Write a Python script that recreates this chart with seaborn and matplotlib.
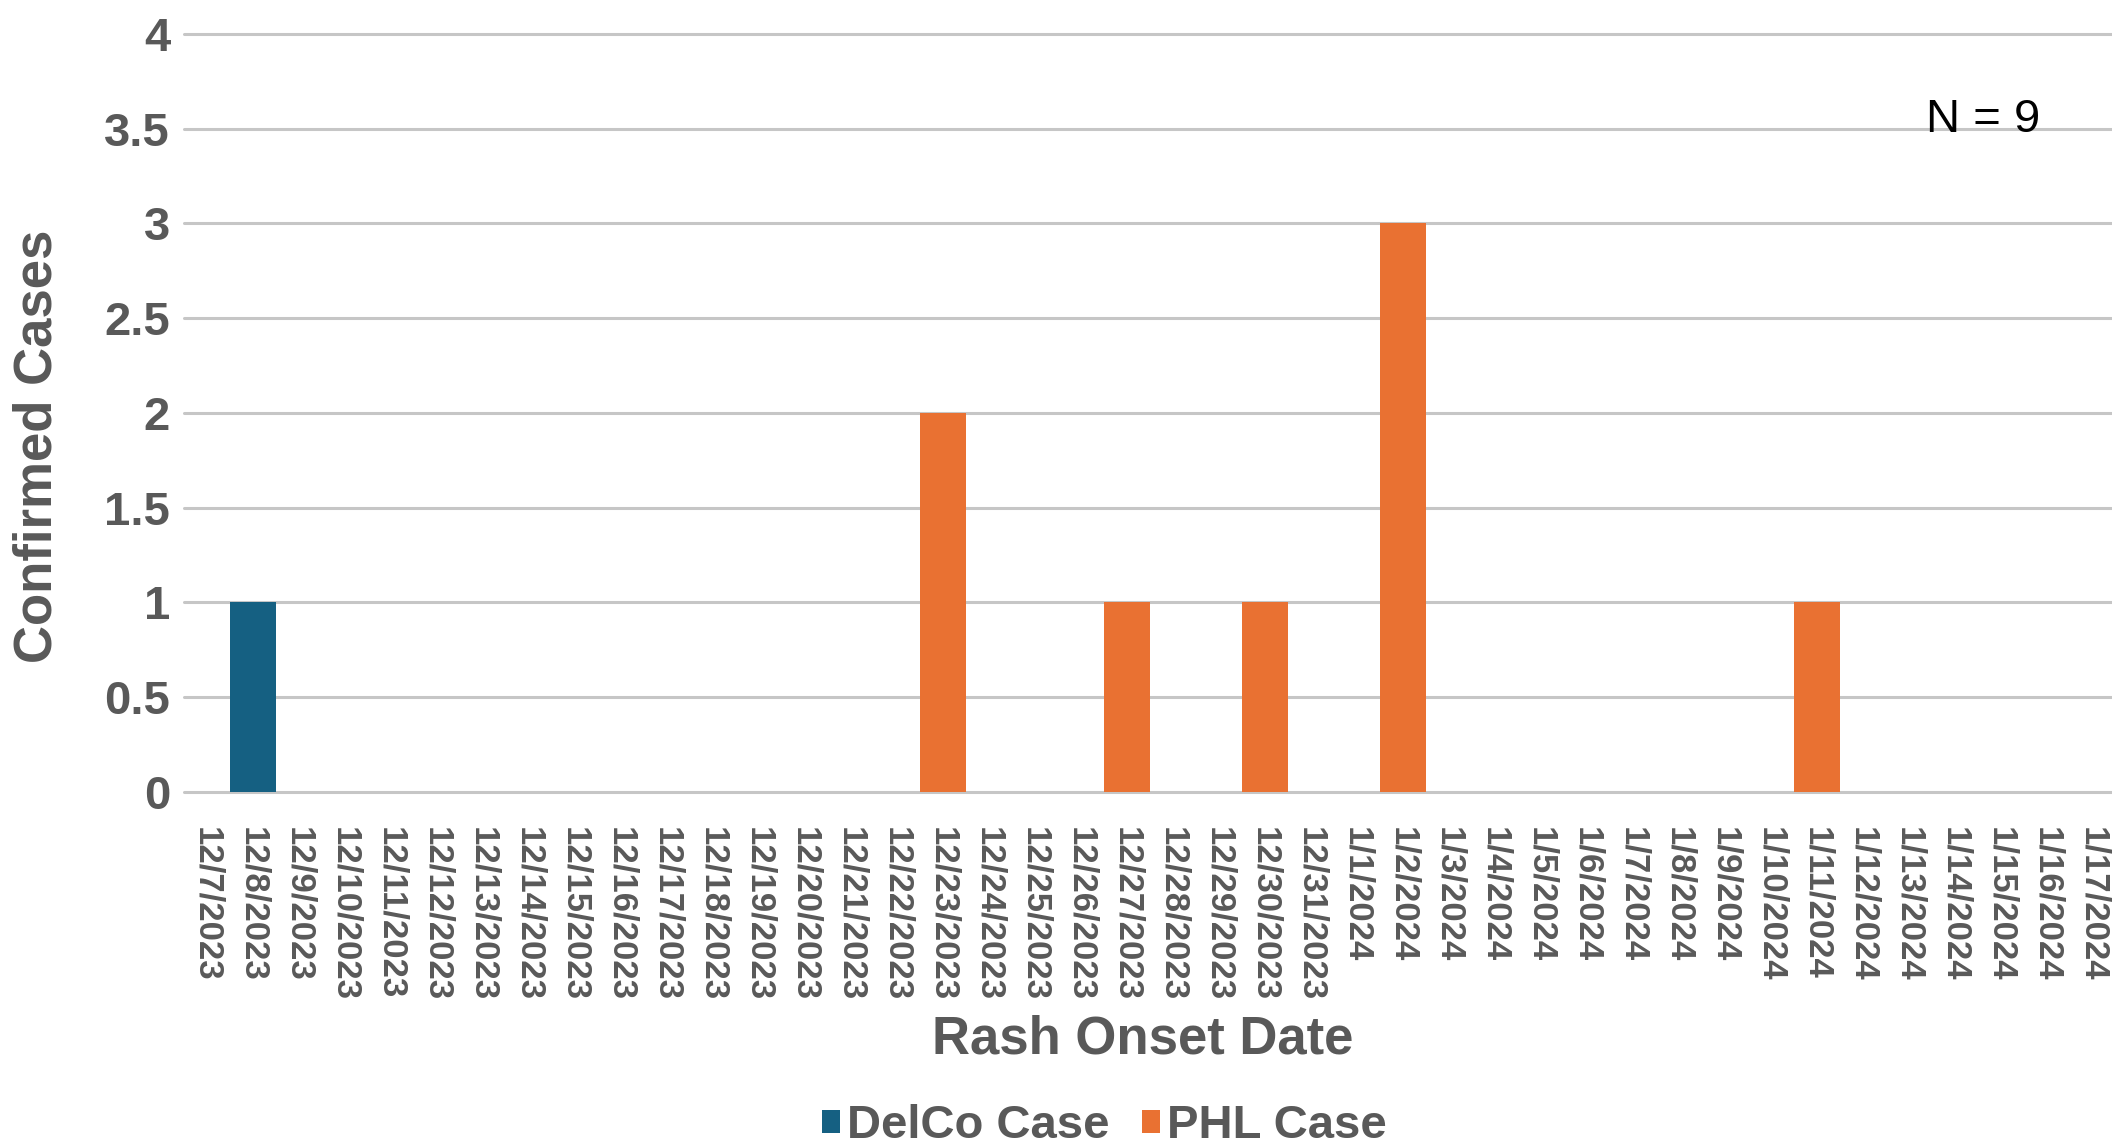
import matplotlib
matplotlib.use("Agg")
import matplotlib.pyplot as plt
import pandas as pd
import seaborn as sns

# data
dates = ["12/7/2023", "12/8/2023", "12/9/2023", "12/10/2023", "12/11/2023",
         "12/12/2023", "12/13/2023", "12/14/2023", "12/15/2023", "12/16/2023",
         "12/17/2023", "12/18/2023", "12/19/2023", "12/20/2023", "12/21/2023",
         "12/22/2023", "12/23/2023", "12/24/2023", "12/25/2023", "12/26/2023",
         "12/27/2023", "12/28/2023", "12/29/2023", "12/30/2023", "12/31/2023",
         "1/1/2024", "1/2/2024", "1/3/2024", "1/4/2024", "1/5/2024",
         "1/6/2024", "1/7/2024", "1/8/2024", "1/9/2024", "1/10/2024",
         "1/11/2024", "1/12/2024", "1/13/2024", "1/14/2024", "1/15/2024",
         "1/16/2024", "1/17/2024"]
delco = [0, 1, 0, 0, 0, 0, 0, 0, 0, 0, 0, 0, 0, 0, 0, 0, 0, 0, 0, 0, 0,
         0, 0, 0, 0, 0, 0, 0, 0, 0, 0, 0, 0, 0, 0, 0, 0, 0, 0, 0, 0, 0]
phl = [0, 0, 0, 0, 0, 0, 0, 0, 0, 0, 0, 0, 0, 0, 0, 0, 2, 0, 0, 0, 1,
       0, 0, 1, 0, 0, 3, 0, 0, 0, 0, 0, 0, 0, 0, 1, 0, 0, 0, 0, 0, 0]
series = ["DelCo Case", "PHL Case"]
colors = ["#156082", "#E97132"]

df = pd.concat([
    pd.DataFrame({"date": dates, "cases": delco, "series": series[0]}),
    pd.DataFrame({"date": dates, "cases": phl, "series": series[1]}),
], ignore_index=True)

sns.set_style("white")
plt.rcParams['font.family'] = ['Liberation Sans', 'DejaVu Sans']
grey = "#595959"

fig = plt.figure(figsize=(21.12, 11.48), dpi=100)
ax = fig.add_axes([0.0871, 0.3101, 0.9148, 0.6603])

sns.barplot(data=df, x="date", y="cases", hue="series", order=dates,
            hue_order=series, palette=colors, saturation=1, dodge=False,
            width=1.0, linewidth=0, errorbar=None, ax=ax)

ax.set_xlim(-0.5, 41.5)
ax.set_ylim(0, 4)
ax.set_yticks([0, 0.5, 1, 1.5, 2, 2.5, 3, 3.5, 4])
ax.set_yticklabels(["0", "0.5", "1", "1.5", "2", "2.5", "3", "3.5", "4"])
ax.yaxis.grid(True, color="#c6c6c6", linewidth=2.2)
ax.set_axisbelow(True)
for line in ax.get_ygridlines():
    line.set_clip_on(False)
sns.despine(ax=ax, left=True, bottom=True)

ax.tick_params(axis="y", length=0, pad=10, labelsize=34, labelcolor=grey)
ax.tick_params(axis="x", length=0, pad=25, labelsize=25, labelcolor=grey)
for lab in ax.get_yticklabels():
    lab.set_fontweight("bold")
for lab in ax.get_xticklabels():
    lab.set_fontweight("bold")
    lab.set_rotation(-90)

ax.set_ylabel("Confirmed Cases", fontsize=38, fontweight="bold", color=grey,
              va="center")
ax.yaxis.set_label_coords(-0.0756, 0.4565)
ax.set_xlabel("Rash Onset Date", fontsize=38, fontweight="bold", color=grey,
              va="center")
ax.xaxis.set_label_coords(0.4964, -0.327)

ax.text(37.37, 3.483, "N = 9", fontsize=34, color="black",
        ha="left", va="baseline")

sns.move_legend(ax, "center", bbox_to_anchor=(0.523, 0.019),
                bbox_transform=fig.transFigure, ncol=2, frameon=False,
                title=None, handlelength=0.38, handleheight=0.38,
                handletextpad=0.14, columnspacing=0.7, borderpad=0,
                prop={"size": 34, "weight": "bold"}, labelcolor=grey)

plt.savefig("out.png", dpi=100)
